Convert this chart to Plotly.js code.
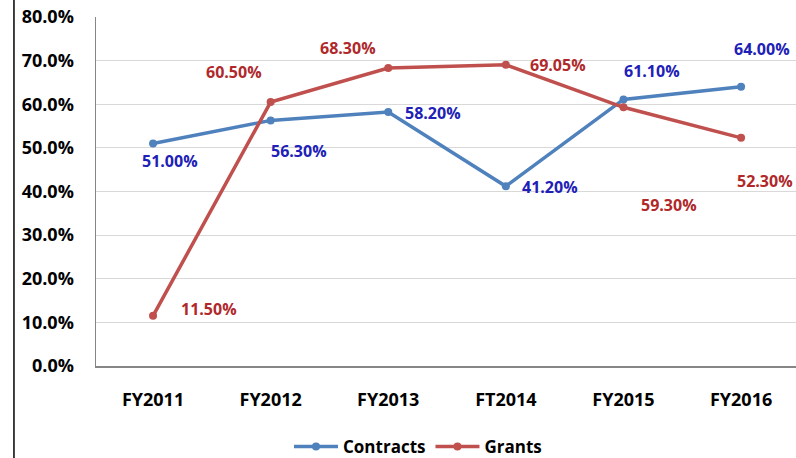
<!DOCTYPE html>
<html>
<head>
<meta charset="utf-8">
<script src="https://cdn.plot.ly/plotly-3.0.1.min.js"></script>
<style>html,body{margin:0;padding:0;background:#fff;}#chart{width:796px;height:458px;}</style>
</head>
<body>
<div id="chart"></div>
<script>
const categories = ["FY2011", "FY2012", "FY2013", "FT2014", "FY2015", "FY2016"];
const contracts = [0.51, 0.563, 0.582, 0.412, 0.611, 0.64];
const grants = [0.115, 0.605, 0.683, 0.6905, 0.593, 0.523];
const contractLabels = ["51.00%", "56.30%", "58.20%", "41.20%", "61.10%", "64.00%"];
const grantLabels = ["11.50%", "60.50%", "68.30%", "69.05%", "59.30%", "52.30%"];
const yTickVals = [0, 0.1, 0.2, 0.3, 0.4, 0.5, 0.6, 0.7, 0.8];
const yTickText = ["0.0%", "10.0%", "20.0%", "30.0%", "40.0%", "50.0%", "60.0%", "70.0%", "80.0%"];

// label placement offsets (pixels)
const contractOffsets = [[17, -17], [28, -31], [45, -1], [44, -1], [29, 28], [21, 38]];
const grantOffsets = [[56, 7], [-37, 30], [-40, 20], [52, 0], [46, -98], [24, -43]];

const fontFam = "'Open Sans', 'Liberation Sans', sans-serif";

const traces = [
  {x: categories, y: contracts, name: "Contracts", type: "scatter", mode: "lines+markers",
   line: {color: "#4F81BD", width: 3.5}, marker: {color: "#4F81BD", size: 8}},
  {x: categories, y: grants, name: "Grants", type: "scatter", mode: "lines+markers",
   line: {color: "#C0504D", width: 3.5}, marker: {color: "#C0504D", size: 8}}
];

const annotations = [];
categories.forEach((c, i) => {
  annotations.push({x: c, y: contracts[i], text: contractLabels[i], showarrow: false,
    xshift: contractOffsets[i][0], yshift: contractOffsets[i][1],
    font: {family: fontFam, size: 16, color: "#2020B8", weight: "bold"}});
  annotations.push({x: c, y: grants[i], text: grantLabels[i], showarrow: false,
    xshift: grantOffsets[i][0], yshift: grantOffsets[i][1],
    font: {family: fontFam, size: 16, color: "#B0282A", weight: "bold"}});
});

const layout = {
  width: 796, height: 458,
  margin: {l: 96, r: 0, t: 17, b: 92, autoexpand: false},
  paper_bgcolor: "#fff", plot_bgcolor: "#fff",
  showlegend: true,
  legend: {orientation: "h", x: 0.46, xanchor: "center", y: -0.232, yanchor: "middle",
    font: {family: fontFam, size: 17, color: "#000", weight: "bold"}, itemwidth: 44, tracegroupgap: 0},
  xaxis: {type: "category", range: [-0.485, 5.467], showgrid: false,
    showline: true, linecolor: "#868686", linewidth: 1.5,
    ticks: "outside", ticklen: 17, tickcolor: "rgba(0,0,0,0)",
    tickfont: {family: fontFam, size: 18, color: "#000", weight: "bold"}, fixedrange: true},
  yaxis: {range: [0, 0.8], tickvals: yTickVals, ticktext: yTickText,
    showgrid: true, gridcolor: "#d9d9d9", gridwidth: 1,
    showline: true, linecolor: "#868686", linewidth: 1.5, zeroline: false,
    ticks: "outside", ticklen: 17, tickcolor: "rgba(0,0,0,0)",
    tickfont: {family: fontFam, size: 18, color: "#000", weight: "bold"}, fixedrange: true},
  annotations: annotations,
  shapes: [{type: "line", xref: "paper", yref: "paper", x0: -0.1172, x1: -0.1172, y0: -0.3, y1: 1.1,
    line: {color: "#000", width: 1.5}}]
};

Plotly.newPlot("chart", traces, layout, {displayModeBar: false, staticPlot: true});
</script>
</body>
</html>
